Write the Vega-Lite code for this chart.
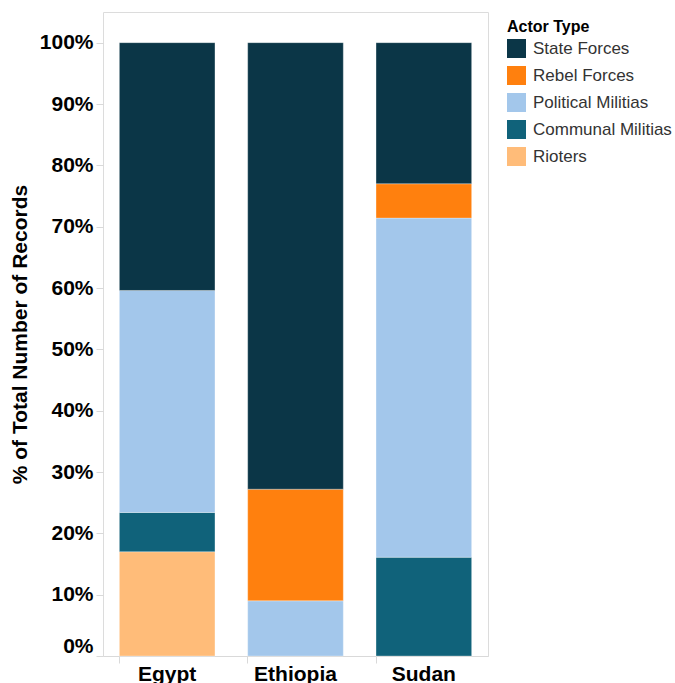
{
  "$schema": "https://vega.github.io/schema/vega-lite/v6.json",
  "autosize": "none",
  "width": 385,
  "height": 644,
  "padding": {"left": 103, "top": 12, "right": 187, "bottom": 27},
  "background": "white",
  "config": {
    "font": "Liberation Sans",
    "view": {"stroke": "#dcdcdc", "strokeWidth": 1}
  },
  "data": {
    "values": [
      {"country": "Egypt", "actor": "Rioters", "share": 0.170},
      {"country": "Egypt", "actor": "Communal Militias", "share": 0.064},
      {"country": "Egypt", "actor": "Political Militias", "share": 0.362},
      {"country": "Egypt", "actor": "State Forces", "share": 0.404},
      {"country": "Ethiopia", "actor": "Political Militias", "share": 0.090},
      {"country": "Ethiopia", "actor": "Rebel Forces", "share": 0.182},
      {"country": "Ethiopia", "actor": "State Forces", "share": 0.728},
      {"country": "Sudan", "actor": "Communal Militias", "share": 0.161},
      {"country": "Sudan", "actor": "Political Militias", "share": 0.553},
      {"country": "Sudan", "actor": "Rebel Forces", "share": 0.056},
      {"country": "Sudan", "actor": "State Forces", "share": 0.230}
    ]
  },
  "transform": [
    {"calculate": "indexof(['Rioters','Communal Militias','Political Militias','Rebel Forces','State Forces'], datum.actor)", "as": "stackRank"}
  ],
  "mark": {"type": "bar", "stroke": "#ffffff", "strokeWidth": 0.6, "strokeOpacity": 0.5},
  "encoding": {
    "x": {
      "field": "country",
      "type": "nominal",
      "scale": {"paddingInner": 0.255, "paddingOuter": 0.1275},
      "axis": {
        "title": null,
        "labelAngle": 0,
        "labelFont": "Liberation Sans",
        "labelFontSize": 21,
        "labelFontWeight": "bold",
        "labelColor": "#000000",
        "labelPadding": 0,
        "bandPosition": 0,
        "tickSize": 7,
        "tickColor": "#d9d9d9",
        "domainColor": "#d9d9d9",
        "grid": false
      }
    },
    "y": {
      "field": "share",
      "type": "quantitative",
      "stack": "zero",
      "scale": {"domain": [0, 1.05], "nice": false},
      "axis": {
        "title": "% of Total Number of Records",
        "titleFont": "Liberation Sans",
        "titleFontSize": 21,
        "titleFontWeight": "bold",
        "titleColor": "#000000",
        "titlePadding": 9,
        "values": [0, 0.1, 0.2, 0.3, 0.4, 0.5, 0.6, 0.7, 0.8, 0.9, 1.0],
        "format": ".0%",
        "labelFont": "Liberation Sans",
        "labelFontSize": 21,
        "labelFontWeight": "bold",
        "labelColor": "#000000",
        "labelPadding": 3,
        "labelFlush": true,
        "tickSize": 7,
        "tickColor": "#d9d9d9",
        "domain": false,
        "grid": false
      }
    },
    "color": {
      "field": "actor",
      "type": "nominal",
      "scale": {
        "domain": ["State Forces", "Rebel Forces", "Political Militias", "Communal Militias", "Rioters"],
        "range": ["#0b3647", "#ff800e", "#a3c7eb", "#10627a", "#ffbc79"]
      },
      "legend": {
        "title": "Actor Type",
        "orient": "none",
        "legendX": 404,
        "legendY": 7,
        "titleFont": "Liberation Sans",
        "titleFontSize": 16,
        "titleFontWeight": "bold",
        "titleColor": "#000000",
        "titlePadding": 4,
        "labelFont": "Liberation Sans",
        "labelFontSize": 17,
        "labelColor": "#333333",
        "labelOffset": 7,
        "symbolType": "square",
        "symbolSize": 361,
        "symbolStrokeWidth": 0,
        "symbolOpacity": 1,
        "rowPadding": 8,
        "padding": 0
      }
    },
    "order": {"field": "stackRank", "type": "quantitative", "sort": "ascending"}
  }
}
